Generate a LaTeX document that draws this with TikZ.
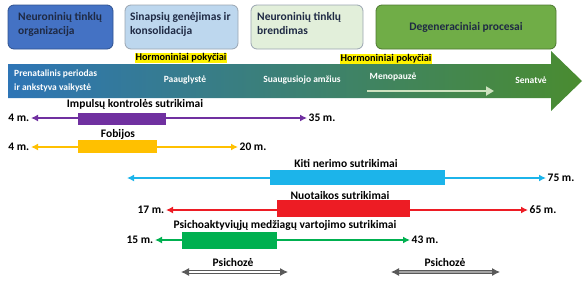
\documentclass[tikz,border=0pt]{standalone}
\usepackage{fontspec}
\setmainfont{Carlito}
\usetikzlibrary{arrows.meta}
\definecolor{boxA}{HTML}{4472C4}
\definecolor{boxAb}{HTML}{2F528F}
\definecolor{boxB}{HTML}{BDD7EE}
\definecolor{boxC}{HTML}{E2EFDA}
\definecolor{boxD}{HTML}{70AD47}
\definecolor{boxbd}{HTML}{9AA5B1}
\definecolor{navy}{HTML}{1F2A44}
\definecolor{arrL}{HTML}{2E75B6}
\definecolor{arrM}{HTML}{4AA07A}
\definecolor{arrR}{HTML}{4A8C30}
\definecolor{cPur}{HTML}{7030A0}
\definecolor{cYel}{HTML}{FFC000}
\definecolor{cCya}{HTML}{1CB4EA}
\definecolor{cRed}{HTML}{ED1C24}
\definecolor{cGrn}{HTML}{00B050}
\definecolor{cGry}{HTML}{595959}
\tikzset{
  stagebox/.style={rounded corners=6pt, draw=boxbd, line width=0.8pt, minimum width=#1, minimum height=44pt, inner sep=0pt},
  boxtxt/.style={font=\fontsize{11.5}{14}\selectfont\bfseries, text=navy, align=left, anchor=north west, inner sep=0pt},
  hormo/.style={fill=yellow, inner sep=1pt, font=\fontsize{10.3}{11}\selectfont\bfseries, text=black},
  inarrow/.style={text=white, font=\fontsize{9.5}{14}\selectfont\bfseries, inner sep=0pt},
  lbl/.style={font=\fontsize{11.5}{12}\selectfont\bfseries, text=black, inner sep=0pt},
  age/.style={font=\fontsize{11.5}{12}\selectfont\bfseries, text=black, inner sep=1.5pt},
  rowline/.style={line width=1.8pt, {Latex[length=7pt,width=7pt]}-{Latex[length=7pt,width=7pt]}},
  bar/.style={inner sep=0pt, minimum width=#1},
}
\begin{document}
\begin{tikzpicture}[x=1pt,y=-1pt]
\useasboundingbox (0,0) rectangle (586,285);
% stage boxes
\node[stagebox=105pt, fill=boxA, draw=boxAb] (s1) at (60.5,27) {};
\node[boxtxt] (t1) at (18,12) {Neuroninių tinklų\\organizacija};
\node[stagebox=113pt, fill=boxB] (s2) at (181.5,27) {};
\node[boxtxt] (t2) at (130,12) {Sinapsių genėjimas ir\\konsolidacija};
\node[stagebox=112pt, fill=boxC] (s3) at (307,27) {};
\node[boxtxt] (t3) at (257,12) {Neuroninių tinklų\\brendimas};
\node[stagebox=180pt, fill=boxD, draw=boxD!70!black] (s4) at (466,27) {};
\node[font=\fontsize{11.5}{14}\selectfont\bfseries, text=navy] (t4) at (466,27) {Degeneraciniai procesai};
% hormones
\node[hormo] (h1) at (181,58) {Hormoniniai pokyčiai};
\node[hormo] (h2) at (386,59) {Hormoniniai pokyčiai};
% big arrow
\shade[left color=arrL, middle color=arrM, right color=arrR]
  (8,64) -- (551,64) -- (551,51) -- (582,81) -- (551,111) -- (551,98) -- (8,98) -- cycle;
\node[inarrow, align=left, anchor=west] (a1) at (14,81) {Prenatalinis periodas\\ir ankstyva vaikystė};
\node[inarrow] (a2) at (185,80) {Paauglystė};
\node[inarrow] (a3) at (302,80) {Suaugusiojo amžius};
\node[inarrow] (a4) at (393,77) {Menopauzė};
\node[inarrow] (a5) at (531,80) {Senatvė};
\coordinate (m1) at (367,91);
\coordinate (m2) at (494,91);
\draw[line width=2.5pt, draw=boxD!35!white, -{Triangle[length=8pt,width=9pt]}] (m1) -- (m2);
% row 1 purple
\node[lbl] (l1) at (135,104) {Impulsų kontrolės sutrikimai};
\node[bar=88pt, minimum height=12pt, fill=cPur] (b1) at (122,118.5) {};
\node[age, anchor=east] (e1a) at (31,118) {4 m.};
\node[age, anchor=west] (e1b) at (307,118) {35 m.};
\draw[rowline, cPur] (e1a) -- (e1b);
% row 2 yellow
\node[lbl] (l2) at (118,134) {Fobijos};
\node[bar=79pt, minimum height=13pt, fill=cYel] (b2) at (117.5,146.5) {};
\node[age, anchor=east] (e2a) at (31,147) {4 m.};
\node[age, anchor=west] (e2b) at (238,147) {20 m.};
\draw[rowline, cYel] (e2a) -- (e2b);
% row 3 cyan
\node[lbl] (l3) at (346,163) {Kiti nerimo sutrikimai};
\node[bar=175pt, minimum height=15pt, fill=cCya] (b3) at (357.5,177.5) {};
\coordinate (e3a) at (127,178);
\node[age, anchor=west] (e3b) at (546,178) {75 m.};
\draw[rowline, cCya, line width=1.5pt] (e3a) -- (e3b);
% row 4 red
\node[lbl] (l4) at (340,195) {Nuotaikos sutrikimai};
\node[bar=133pt, minimum height=17pt, fill=cRed] (b4) at (343.5,208.5) {};
\node[age, anchor=east] (e4a) at (166,210) {17 m.};
\node[age, anchor=west] (e4b) at (528,210) {65 m.};
\draw[rowline, cRed] (e4a) -- (e4b);
% row 5 green
\node[lbl] (l5) at (285,225) {Psichoaktyviųjų medžiagų vartojimo sutrikimai};
\node[bar=95pt, minimum height=17pt, fill=cGrn] (b5) at (229.5,240.5) {};
\node[age, anchor=east] (e5a) at (155,240) {15 m.};
\node[age, anchor=west] (e5b) at (410,240) {43 m.};
\draw[rowline, cGrn] (e5a) -- (e5b);
% psychosis
\node[lbl] (p1) at (233,262) {Psichozė};
\coordinate (p1a) at (181,272);
\coordinate (p1b) at (288,272);
\draw[draw=cGry, double=white, double distance=1.2pt, line width=1pt, {Latex[length=8pt,width=8pt]}-{Latex[length=8pt,width=8pt]}] (p1a) -- (p1b);
\node[lbl] (p2) at (445,262) {Psichozė};
\coordinate (p2a) at (391,272);
\coordinate (p2b) at (500,272);
\draw[draw=cGry, double=cGry!55, double distance=1.4pt, line width=1pt, {Latex[length=8pt,width=8pt]}-{Latex[length=8pt,width=8pt]}] (p2a) -- (p2b);
\end{tikzpicture}
\end{document}
